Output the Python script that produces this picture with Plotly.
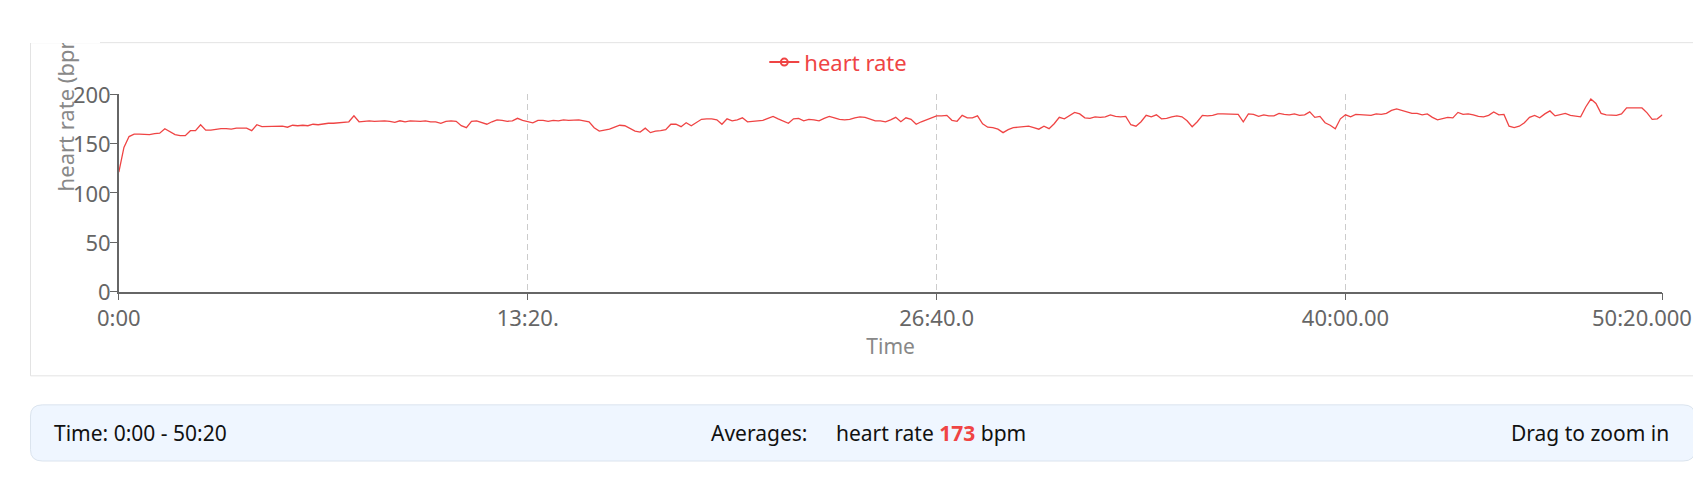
#Import plotly graph objects to build the chart
import plotly.graph_objects as go

#Heart rate samples, one every 10 seconds from 0:00 to 50:20
seconds = list(range(0, 3030, 10))
heart_rate = [
    121, 146, 157, 159.5, 159.5, 159, 159, 160, 160.5, 165, 162, 159, 158, 158, 163, 163, 169, 163.5, 163.5, 164.5,
    165, 165, 164.5, 165.5, 165.5, 165.5, 163, 169, 167, 167, 167.5, 167.5, 167.5, 166.5, 168.5, 168, 168.5, 168, 169.5, 169,
    170, 170.5, 170.5, 171, 171.5, 172, 178, 172, 172.5, 173, 172.5, 173, 173, 172.5, 171.5, 173, 172, 173, 172.5, 172.5,
    173, 172, 172, 170.5, 172.5, 173, 172.5, 168, 166, 172.5, 173, 171, 169.5, 172, 174, 173.5, 172.5, 173, 175.5, 173.5,
    172, 171, 173.5, 173.5, 172.5, 173.5, 173, 174, 173.5, 173.5, 174, 173, 172, 166, 162.5, 163.5, 164.5, 166.5, 168.5, 168,
    165.5, 162.5, 161.5, 165.5, 161, 162.5, 163, 164, 169.5, 169.5, 167, 171, 168, 171.5, 174.5, 175, 175, 174, 169.5, 175,
    173, 174, 176, 172, 172.5, 173, 173.5, 175.5, 177.5, 175, 173, 170.5, 175, 175.5, 173, 174.5, 174, 173, 175.5, 177.5,
    176, 174.5, 174, 174.5, 176, 177, 176.5, 174.5, 173, 173, 172, 174, 176.5, 172, 176, 174.5, 169.5, 172, 174, 176,
    178, 178, 178.5, 173.5, 172.5, 178.5, 176, 176, 178, 170, 166.5, 166, 164.5, 161, 164, 166, 166.5, 167, 167.5, 166,
    164.5, 167.5, 165, 170, 176.5, 175, 178, 181.5, 180, 176, 175.5, 177, 176.5, 177, 179, 177.5, 177, 177.5, 169, 167.5,
    172, 178.5, 177, 179, 175, 175.5, 177, 178, 177, 173, 167, 172, 178.5, 178, 178.5, 180, 180, 180, 180, 179.5,
    172, 180, 179.5, 177.5, 179, 178, 178, 180.5, 179.5, 179, 180, 178.5, 179, 182, 176.5, 177.5, 171, 168.5, 165, 175,
    179, 177, 179.5, 179, 179, 178.5, 180, 179.5, 180.5, 183.5, 185, 183.5, 181.5, 180.5, 180.5, 179, 180, 176.5, 174, 175,
    176.5, 176, 181.5, 179.5, 180, 179, 177.5, 177, 178.5, 182, 179, 179.5, 167.5, 166, 167.5, 171, 176.5, 178.5, 176, 180,
    183, 178, 179, 180.5, 178.5, 178, 177, 187, 195, 190.5, 180.5, 179, 178.5, 178.5, 180, 186, 186, 186, 186, 181,
    174.5, 175, 179,
]

#Axis ticks (the last label sits flush with the card edge, so it is placed on its own below)
x_tick_values = [0, 800, 1600, 2400, 3020]
x_tick_labels = ["0:00", "13:20.", "26:40.0", "40:00.00", "50:20.000"]
y_tick_values = [0, 50, 100, 150, 200]

#Summary bar texts
time_range_text = "Time: 0:00 - 50:20"
average_label = "Averages:"
average_series = "heart rate"
average_value = 173
average_unit = "bpm"
hint_text = "Drag to zoom in"

#Page is 1701x484, the body keeps its 8px margin so the figure itself is 16px smaller
PAGE_W, PAGE_H = 1701, 484
OFF = 8
W, H = PAGE_W - 2 * OFF, PAGE_H - 2 * OFF
RED = "#ef4444"
FONT = "Noto Sans"


#Helpers to turn page pixels into paper coordinates
def px(x):
    return (x - OFF) / W


def py(y):
    return 1 - (y - OFF) / H


def rounded_rect(x0, y0, x1, y1, r):
    rx, ry = r / W, r / H
    a, b, c, d = px(x0), py(y0), px(x1), py(y1)
    return (f"M {a + rx},{b} L {c - rx},{b} Q {c},{b} {c},{b - ry} "
            f"L {c},{d + ry} Q {c},{d} {c - rx},{d} L {a + rx},{d} "
            f"Q {a},{d} {a},{d + ry} L {a},{b - ry} Q {a},{b} {a + rx},{b} Z")


fig = go.Figure()

fig.add_trace(go.Scatter(x=seconds, y=heart_rate, mode="lines", name="heart rate",
                         line=dict(color=RED, width=1.3), showlegend=False))

#Legend entry drawn like the line + open circle icon
fig.add_trace(go.Scatter(x=[None], y=[None], mode="lines+markers", name="heart rate", yaxis="y2",
                         line=dict(color=RED, width=2),
                         marker=dict(symbol="circle-open", size=7, color=RED, line=dict(width=2))))

fig.update_layout(
    width=W, height=H,
    margin=dict(l=0, r=0, t=0, b=0),
    paper_bgcolor="white", plot_bgcolor="white",
    font=dict(family=FONT, size=22, color="#666"),
    showlegend=True,
    legend=dict(x=px(752), y=py(50), xanchor="left", yanchor="middle", orientation="h",
                font=dict(size=22, color=RED), itemwidth=30, bgcolor="rgba(0,0,0,0)"),
    xaxis=dict(domain=[px(98), px(1662)], range=[0, 3020], tickvals=x_tick_values,
               ticktext=x_tick_labels[:-1] + [""],
               showline=True, linecolor="#666", linewidth=1.5, ticks="outside", ticklen=7, tickcolor="#666",
               tickfont=dict(size=22, color="#666"), ticklabelstandoff=-1,
               showgrid=True, gridcolor="#ccc", griddash="6px,4px", gridwidth=1, zeroline=False,
               title=dict(text="Time", font=dict(size=21, color="#888"), standoff=2)),
    yaxis=dict(domain=[py(295), py(84)], range=[0, 200], tickvals=y_tick_values,
               showline=True, linecolor="#666", linewidth=1.5, ticks="outside", ticklen=7, tickcolor="#666",
               tickfont=dict(size=22, color="#666"), ticklabelstandoff=-5, ticklabelshift=1,
               showgrid=False, zeroline=False),
    yaxis2=dict(overlaying="y", range=[0, 200], tickvals=[200], showticklabels=False, showline=False,
                showgrid=True, gridcolor="#ccc", griddash="6px,4px", zeroline=False),
)

#Last x tick label, pushed in so it ends at the card edge
fig.add_annotation(text=x_tick_labels[-1], xref="paper", yref="paper", x=px(1694), y=py(322),
                   xanchor="right", yanchor="middle", showarrow=False, font=dict(size=22, color="#666"))

#Chart card and the summary bar underneath
fig.add_shape(type="rect", xref="paper", yref="paper", x0=px(8.5), y0=py(385), x1=px(1697), y1=py(29),
              line=dict(color="#e3e3e3", width=1), fillcolor="rgba(0,0,0,0)", layer="below")
fig.add_shape(type="path", xref="paper", yref="paper", path=rounded_rect(8.5, 416, 1695, 476, 12),
              line=dict(color="#dbe4ee", width=1), fillcolor="#eff6ff", layer="below")

#Rotated y axis title, cut off at the top of the card like the original
fig.add_annotation(text="heart rate (bpm)", textangle=-90, xref="paper", yref="paper",
                   x=px(43), y=py(190), xanchor="center", yanchor="bottom", showarrow=False,
                   font=dict(size=22, color="#888"))
fig.add_annotation(text=" ", xref="paper", yref="paper", x=px(43), y=1, xanchor="center", yanchor="top",
                   width=70, height=20, bgcolor="white", borderpad=0, borderwidth=0, showarrow=False)

bar_font = dict(size=21, color="#111")
fig.add_annotation(text=time_range_text, xref="paper", yref="paper", x=px(30), y=py(446),
                   xanchor="left", yanchor="middle", showarrow=False, font=bar_font)
fig.add_annotation(text=average_label, xref="paper", yref="paper", x=px(696), y=py(446),
                   xanchor="left", yanchor="middle", showarrow=False, font=bar_font)
fig.add_annotation(text=f"{average_series} <b><span style='color:{RED}'>{average_value}</span></b> {average_unit}",
                   xref="paper", yref="paper", x=px(823), y=py(446),
                   xanchor="left", yanchor="middle", showarrow=False, font=bar_font)
fig.add_annotation(text=hint_text, xref="paper", yref="paper", x=px(1671), y=py(446),
                   xanchor="right", yanchor="middle", showarrow=False, font=bar_font)

fig.write_html("out.html", config={"displayModeBar": False})
